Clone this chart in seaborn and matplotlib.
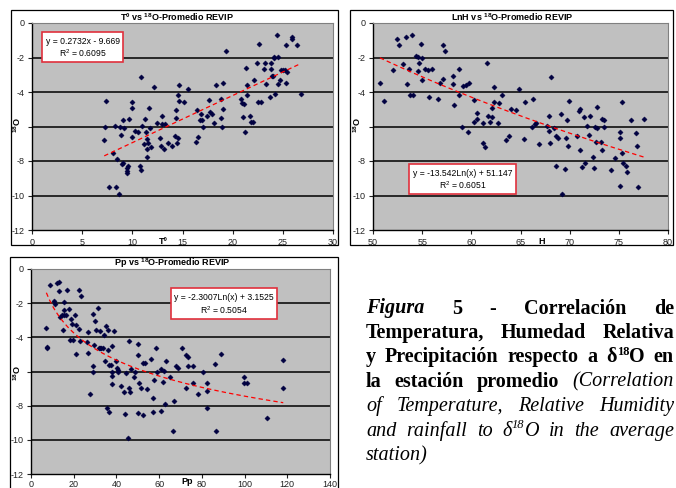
import numpy as np
import pandas as pd
import matplotlib
matplotlib.use("Agg")
import matplotlib.pyplot as plt
import seaborn as sns
from matplotlib.patches import Rectangle

plt.rcParams["font.family"] = "Liberation Sans"
plt.rcParams["axes.unicode_minus"] = False
plt.rcParams["mathtext.fontset"] = "custom"
plt.rcParams["mathtext.rm"] = "Liberation Sans"
plt.rcParams["mathtext.bf"] = "Liberation Sans:bold"

# --- datos ---
temp_x = [7.2, 7.4, 7.3, 7.7, 8.1, 8.3, 8.4, 8.5, 8.7, 8.8, 8.9, 9.0, 9.1, 9.1, 9.2,
          9.5, 9.5, 9.5, 9.6, 9.7, 10.0, 10.0, 10.0, 10.3, 10.6, 10.8, 10.9, 10.9, 11.0,
          11.2, 11.3, 11.4, 11.5, 11.5, 11.5, 11.6, 11.7, 11.8, 11.9, 12.2, 12.5, 12.8,
          12.9, 13.0, 13.0, 13.2, 13.3, 13.6, 14.0, 14.3, 14.4, 14.4, 14.5, 14.6, 14.6,
          14.7, 14.7, 15.1, 15.5, 16.3, 16.4, 16.5, 16.7, 16.8, 16.9, 17.0, 17.4, 17.6,
          17.7, 17.9, 18.1, 18.3, 18.8, 18.9, 18.8, 19.0, 19.0, 19.3, 20.8, 20.9, 21.0,
          21.1, 21.2, 21.3, 21.4, 21.4, 21.7, 21.8, 22.0, 22.1, 22.4, 22.5, 22.6, 22.8,
          23.1, 23.2, 23.3, 23.7, 23.8, 23.8, 23.9, 24.0, 24.1, 24.1, 24.2, 24.4, 24.5,
          24.5, 24.7, 24.8, 25.0, 25.2, 25.3, 25.3, 25.4, 25.9, 25.9, 26.4, 26.8]
temp_y = [-6.8, -4.5, -6.0, -9.5, -7.55, -5.96, -9.5, -7.9, -9.9, -6.05, -6.5, -8.15, -8.1,
          -5.65, -6.1, -8.4, -8.6, -8.7, -8.3, -5.55, -6.6, -4.6, -4.9, -6.25, -6.3, -8.3,
          -8.5, -3.15, -5.95, -7.0, -5.55, -6.3, -7.3, -7.75, -6.75, -6.95, -4.95, -6.1,
          -7.2, -3.7, -5.8, -6.65, -7.15, -5.4, -5.85, -7.3, -5.85, -6.95, -7.15, -6.55,
          -5.05, -5.5, -6.95, -4.2, -6.65, -3.6, -4.55, -4.6, -3.85, -6.9, -5.05, -6.6,
          -5.6, -5.3, -5.65, -6.0, -5.4, -4.45, -5.15, -5.25, -5.8, -3.6, -5.5, -6.0,
          -4.4, -3.5, -5.0, -1.6, -4.4, -4.65, -5.45, -4.7, -6.3, -2.6, -4.2, -3.6, -5.4,
          -5.75, -5.75, -3.3, -2.3, -4.6, -1.2, -4.6, -2.65, -2.3, -3.55, -4.3, -2.65,
          -2.3, -3.05, -3.05, -1.95, -2.05, -4.1, -0.7, -1.95, -3.55, -3.3, -2.75, -2.75,
          -2.7, -3.5, -1.3, -2.85, -0.8, -0.9, -1.25, -4.1]

hum_x = [50.7, 51.1, 52.0, 52.4, 52.6, 53.0, 53.4, 53.5, 53.7, 53.8, 54.0, 54.1, 54.4,
         54.6, 54.6, 54.7, 54.9, 55.0, 55.0, 55.3, 55.6, 55.7, 56.0, 56.6, 56.8, 57.1,
         57.1, 57.3, 58.1, 58.1, 58.2, 58.7, 58.7, 59.0, 59.2, 59.5, 59.8, 59.7, 60.3,
         60.3, 60.6, 60.6, 61.2, 61.2, 61.4, 61.6, 61.7, 61.9, 62.1, 62.1, 62.3, 62.3,
         62.7, 62.8, 63.1, 63.5, 63.8, 64.0, 64.5, 64.8, 65.4, 65.5, 66.2, 66.3, 66.5,
         66.6, 66.9, 67.7, 67.9, 67.9, 68.0, 68.1, 68.4, 68.6, 68.6, 68.8, 69.1, 69.2,
         69.5, 69.6, 69.7, 69.8, 69.9, 70.7, 70.9, 71.0, 71.1, 71.3, 71.5, 71.6, 71.8,
         72.0, 72.1, 72.4, 72.5, 72.6, 72.7, 72.8, 72.8, 73.2, 73.3, 73.3, 73.5, 73.5,
         74.2, 74.6, 75.1, 75.1, 75.1, 75.3, 75.3, 75.4, 75.7, 75.8, 76.2, 76.7, 76.8,
         76.9, 77.6]
hum_y = [-3.45, -4.55, -2.7, -0.95, -1.25, -2.35, -0.8, -3.55, -2.65, -4.15, -0.7, -4.15,
         -1.9, -2.8, -1.95, -2.3, -1.2, -2.05, -3.3, -2.65, -2.75, -4.3, -2.65, -4.4,
         -3.5, -3.25, -1.3, -1.6, -3.05, -3.55, -4.75, -2.65, -4.2, -6.0, -3.65, -3.6,
         -3.5, -6.3, -5.75, -4.45, -5.2, -5.55, -6.95, -5.8, -7.2, -2.3, -5.4, -5.75,
         -5.45, -4.95, -3.7, -4.6, -5.8, -4.65, -4.2, -6.8, -6.55, -5.0, -5.05, -3.85,
         -6.75, -4.6, -6.05, -4.4, -5.85, -5.8, -7.0, -5.95, -5.4, -6.25, -6.95, -3.15,
         -6.1, -6.55, -8.3, -6.65, -5.3, -9.9, -8.45, -6.65, -5.65, -7.15, -4.5, -6.55,
         -5.1, -5.0, -7.35, -8.35, -5.45, -8.1, -5.95, -6.5, -5.4, -7.75, -8.4, -6.05,
         -6.9, -4.85, -6.1, -6.9, -5.55, -7.35, -5.65, -6.05, -8.55, -7.85, -6.3, -6.65,
         -9.45, -4.6, -7.55, -8.1, -8.3, -8.65, -5.6, -6.35, -7.15, -9.5, -5.55]

pp_x = [7.2, 7.5, 7.5, 8.9, 10.6, 11.4, 12.1, 12.9, 13.1, 13.7, 14.6, 14.8, 15.6, 15.6,
        15.6, 16.5, 16.7, 17.9, 18.4, 18.8, 19.2, 19.8, 20.7, 21.2, 21.3, 22.3, 22.4,
        23.1, 23.5, 26.2, 26.8, 26.9, 27.6, 28.8, 29.0, 29.1, 29.7, 29.9, 30.5, 31.3,
        31.8, 32.1, 32.4, 32.9, 33.8, 34.1, 34.7, 35.2, 36.0, 35.8, 36.1, 36.4, 36.4,
        37.4, 37.7, 37.9, 38.0, 38.0, 38.8, 39.6, 40.5, 40.7, 40.8, 42.2, 43.5, 43.8,
        44.5, 45.2, 45.9, 46.1, 46.4, 47.0, 48.4, 48.6, 50.0, 50.3, 50.3, 50.8, 51.7,
        52.3, 52.5, 53.6, 54.5, 56.1, 57.2, 57.3, 57.8, 58.6, 58.9, 60.7, 61.1, 61.7,
        62.5, 62.9, 63.2, 65.3, 66.7, 66.8, 67.9, 68.7, 70.6, 72.4, 72.8, 73.4, 73.5,
        75.7, 75.7, 78.4, 80.5, 82.2, 82.2, 82.4, 86.3, 86.6, 89.1, 99.7, 99.7, 101.2,
        110.6, 118.1, 118.1]
pp_y = [-3.45, -4.55, -4.6, -0.95, -1.9, -2.05, -0.8, -0.75, -1.3, -2.8, -2.7, -3.55,
        -1.95, -2.4, -2.7, -2.7, -1.25, -2.35, -4.15, -2.9, -3.2, -4.15, -2.7, -4.95,
        -3.3, -1.25, -3.5, -4.2, -1.6, -4.25, -4.9, -3.7, -7.3, -5.7, -2.65, -6.0, -4.45,
        -3.05, -3.55, -2.3, -4.65, -3.6, -4.6, -4.65, -4.65, -3.85, -5.4, -3.35, -3.55,
        -8.15, -4.75, -8.35, -5.6, -5.6, -6.0, -6.25, -6.75, -4.5, -3.6, -5.4, -5.8,
        -6.05, -5.9, -6.85, -7.2, -8.5, -6.1, -9.9, -6.95, -4.2, -7.2, -5.85, -6.3,
        -6.05, -4.4, -8.4, -5.05, -6.65, -6.95, -8.55, -5.5, -5.5, -7.05, -5.25, -7.55,
        -8.35, -6.5, -4.6, -6.05, -5.85, -8.3, -6.6, -5.95, -7.9, -5.4, -6.35, -9.5,
        -7.75, -5.7, -5.8, -4.6, -6.95, -5.05, -5.15, -5.65, -6.65, -5.7, -7.3, -6.05,
        -6.65, -7.15, -8.15, -5.55, -9.5, -5.0, -6.35, -6.65, -6.65, -8.7, -5.3, -6.95]

# coeficientes de las lineas de tendencia (del grafico)
temp_fit = [0.2732, -9.669]
hum_fit = [-13.542, 51.147]
pp_fit = [-2.3007, 3.1525]

temp_eq = ["y = 0.2732x - 9.669", r"R$^2$ = 0.6095"]
hum_eq = ["y = -13.542Ln(x) + 51.147", r"R$^2$ = 0.6051"]
pp_eq = ["y = -2.3007Ln(x) + 3.1525", r"R$^2$ = 0.5054"]

# el rotulo -6 queda tapado por el titulo del eje en el original
y_ticks = [0, -2, -4, -6, -8, -10, -12]
y_labels = ["0", "-2", "-4", "", "-8", "-10", "-12"]

W, H = 676, 488
fig = plt.figure(figsize=(W / 100, H / 100), dpi=100)


def fx(px):
    return px / W


def fy(py):
    return 1 - py / H


def frame(x0, y0, x1, y1):
    fig.add_artist(Rectangle((fx(x0), fy(y1)), fx(x1) - fx(x0), fy(y0) - fy(y1),
                             transform=fig.transFigure, fill=False, ec="black", lw=0.9))


def panel(px, x, y, xlim, xstep, fit, log, title, tpos, xlab, xlpos, ylpos, box, eq,
          xpad=2.5):
    x0, y0, x1, y1 = px
    ax = fig.add_axes([fx(x0), fy(y1), fx(x1) - fx(x0), fy(y0) - fy(y1)])
    ax.set_facecolor("#c0c0c0")
    df = pd.DataFrame({"x": x, "y": y})
    xs = np.linspace(min(x), max(x), 200)
    ys = fit[0] * np.log(xs) + fit[1] if log else fit[0] * xs + fit[1]
    for v in range(-10, 0, 2):
        ax.axhline(v, color="black", lw=1.1, zorder=1)
    sns.scatterplot(data=df, x="x", y="y", ax=ax, marker="D", s=7, color="#000040",
                    linewidth=0.3, edgecolor="#000040", zorder=3)
    sns.lineplot(x=xs, y=ys, ax=ax, color="#ff0000", lw=0.9, zorder=4)
    ax.lines[-1].set_dashes([3.5, 2.5])
    ax.set_xlim(xlim)
    ax.set_ylim(-12, 0)
    ax.set_xticks(np.arange(xlim[0], xlim[1] + 1, xstep))
    ax.set_yticks(y_ticks)
    ax.set_yticklabels(y_labels)
    ax.set_xlabel("")
    ax.set_ylabel("")
    ax.tick_params(direction="out", length=3, width=0.8, labelsize=6.5,
                   colors="#222222", pad=2.5)
    ax.tick_params(axis="x", pad=xpad)
    for s in ("left", "bottom"):
        ax.spines[s].set_color("black")
        ax.spines[s].set_linewidth(1.0)
    for s in ("top", "right"):
        ax.spines[s].set_color("#808080")
        ax.spines[s].set_linewidth(0.8)
    fig.text(fx(tpos[0]), fy(tpos[1]), title, ha="center", va="center",
             fontsize=6.5, fontweight="bold")
    fig.text(fx(xlpos[0]), fy(xlpos[1]), xlab, ha="center", va="center",
             fontsize=6.5, fontweight="bold")
    fig.text(fx(ylpos[0]), fy(ylpos[1]), r"$^{\mathbf{18}}$O", ha="center", va="center",
             rotation=90, fontsize=6.5, fontweight="bold")
    bx0, by0, bx1, by1 = box
    fig.add_artist(Rectangle((fx(bx0), fy(by1)), fx(bx1) - fx(bx0), fy(by0) - fy(by1),
                             transform=fig.transFigure, fc="white", ec="#e0303c",
                             lw=1.2, zorder=5))
    cx = (bx0 + bx1) / 2
    h = by1 - by0
    fig.text(fx(cx), fy(by0 + h * 0.30), eq[0], ha="center", va="center",
             fontsize=6.2, zorder=6)
    fig.text(fx(cx), fy(by0 + h * 0.72), eq[1], ha="center", va="center",
             fontsize=6.2, zorder=6)
    return ax


frame(11, 10, 338, 245)
frame(350, 10, 673, 245)
frame(10, 257, 338, 492)

panel((32, 23, 333, 230), temp_x, temp_y, (0, 30), 5, temp_fit, False,
      r"Tº vs $^{\mathbf{18}}$O-Promedio REVIP", (177, 17), "Tº", (163, 241), (17, 125),
      (42, 32, 123, 62), temp_eq)
panel((373, 23, 668, 230), hum_x, hum_y, (50, 80), 5, hum_fit, True,
      r"LnH vs $^{\mathbf{18}}$O-Promedio REVIP", (512, 17), "H", (542, 241), (357, 125),
      (409, 164, 516, 194), hum_eq)
panel((31, 269, 330, 474), pp_x, pp_y, (0, 140), 20, pp_fit, True,
      r"Pp vs $^{\mathbf{18}}$O-Promedio REVIP", (172, 263), "Pp", (187, 482), (17, 373),
      (171, 288, 277, 319), pp_eq, xpad=1.0)

# --- texto de la figura, justificado ---
B, I, BI = ("bold", "normal"), ("normal", "italic"), ("bold", "italic")
caption = [
    [[("Figura", BI, 0)], [("5", B, 0)], [("-", B, 0)], [("Correlación", B, 0)], [("de", B, 0)]],
    [[("Temperatura,", B, 0)], [("Humedad", B, 0)], [("Relativa", B, 0)]],
    [[("y", B, 0)], [("Precipitación", B, 0)], [("respecto", B, 0)], [("a", B, 0)],
     [("δ", B, 0), ("18", B, 1), ("O", B, 0)], [("en", B, 0)]],
    [[("la", B, 0)], [("estación", B, 0)], [("promedio", B, 0)], [("(Correlation", I, 0)]],
    [[("of", I, 0)], [("Temperature,", I, 0)], [("Relative", I, 0)], [("Humidity", I, 0)]],
    [[("and", I, 0)], [("rainfall", I, 0)], [("to", I, 0)], [("δ", I, 0), ("18", I, 1), ("O", I, 0)],
     [("in", I, 0)], [("the", I, 0)], [("average", I, 0)]],
    [[("station)", I, 0)]],
]
fs = 14.5
cap_x0, cap_x1 = 366, 674
base0, step = 313.5, 24.45

fig.canvas.draw()
renderer = fig.canvas.get_renderer()


def make(txt, st, sup, xp, yp):
    size = fs * 0.62 if sup else fs
    return fig.text(fx(xp), fy(yp), txt, fontsize=size, family="Liberation Serif",
                    fontweight=st[0], fontstyle=st[1], ha="left", va="baseline")


for i, line in enumerate(caption):
    yb = base0 + i * step
    widths = []
    for word in line:
        w = 0
        for txt, st, sup in word:
            t = make(txt, st, sup, 0, 0)
            w += t.get_window_extent(renderer).width
            t.remove()
        widths.append(w)
    if i < len(caption) - 1 and len(line) > 1:
        gap = (cap_x1 - cap_x0 - sum(widths)) / (len(line) - 1)
    else:
        gap = fs * 100 / 72 * 0.25
    xp = cap_x0
    for word, w in zip(line, widths):
        xc = xp
        for txt, st, sup in word:
            yy = yb - (fs * 100 / 72 * 0.38 if sup else 0)
            t = make(txt, st, sup, xc, yy)
            xc += t.get_window_extent(renderer).width
        xp += w + gap

fig.savefig("out.png", dpi=100)
